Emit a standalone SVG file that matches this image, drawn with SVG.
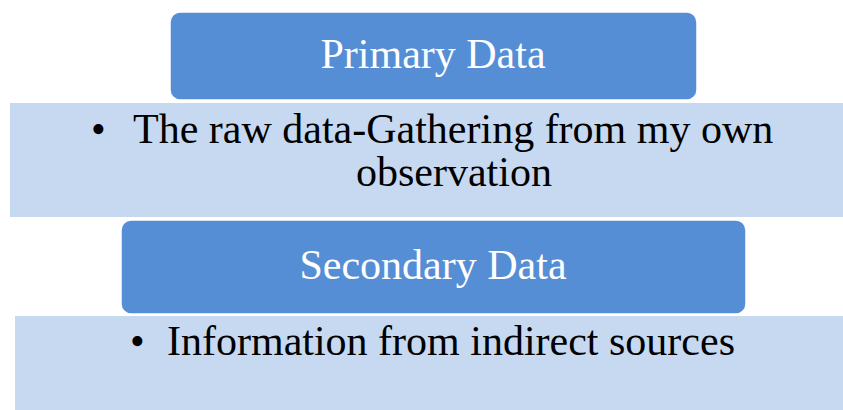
<svg xmlns="http://www.w3.org/2000/svg" width="843" height="410" viewBox="0 0 843 410">
  <style>
    .band { fill: #c6d9f1; }
    .head { fill: #558ed5; stroke: #ffffff; stroke-width: 1.5; }
    .htxt { font-family: "Liberation Serif", "Times New Roman", serif; font-size: 42px; fill: #ffffff; }
    .btxt { font-family: "Liberation Serif", "Times New Roman", serif; font-size: 42px; fill: #000000; }
  </style>
  <rect width="843" height="410" fill="#ffffff"/>

  <g id="primary-detail">
    <rect class="band" x="10" y="103" width="833" height="114"/>
    <text class="btxt" x="91" y="143">•</text>
    <text class="btxt" x="133" y="143">The raw data-Gathering from my own</text>
    <text class="btxt" x="356" y="186">observation</text>
  </g>

  <g id="primary-data">
    <rect class="head" x="170" y="12" width="527" height="88" rx="10" ry="10"/>
    <text class="htxt" x="433" y="68" text-anchor="middle">Primary Data</text>
  </g>

  <g id="secondary-detail">
    <rect class="band" x="15" y="316" width="828" height="94"/>
    <text class="btxt" x="130" y="355">•</text>
    <text class="btxt" x="167" y="355">Information from indirect sources</text>
  </g>

  <g id="secondary-data">
    <rect class="head" x="121" y="220" width="625" height="94" rx="10" ry="10"/>
    <text class="htxt" x="433" y="279" text-anchor="middle">Secondary Data</text>
  </g>

  <g id="connectors"></g>
</svg>
